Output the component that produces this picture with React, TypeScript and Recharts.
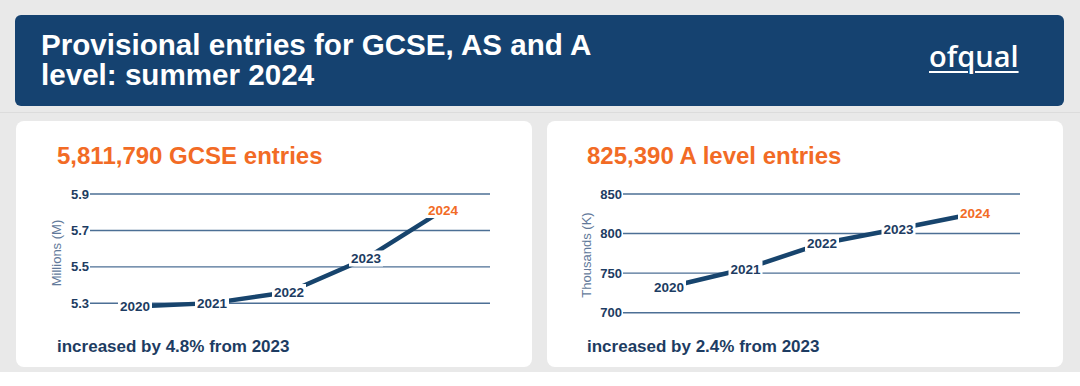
import { LineChart, Line, XAxis, YAxis, CartesianGrid, LabelList } from "recharts";

// values
const years = ["2020", "2021", "2022", "2023", "2024"];
const gcseMillions = [5.283, 5.301, 5.362, 5.546, 5.812];
const aLevelThousands = [732.5, 755.5, 787.5, 806, 825.4];
const gcseTicks = [5.3, 5.5, 5.7, 5.9];
const aLevelTicks = [700, 750, 800, 850];

const NAVY = "#154270";
const LINE = "#17446d";
const TEXT = "#1d3c62";
const ORANGE = "#f26b25";
const GRID = "#4c6f95";
const AXIS_TITLE = "#62799a";
const FONT = "'Liberation Sans', Arial, sans-serif";

const gcseData = years.map((y, i) => ({ year: y, value: gcseMillions[i] }));
const aLevelData = years.map((y, i) => ({ year: y, value: aLevelThousands[i] }));

// year label with a white box that hides the line and the grid behind it
function YearLabel(props: any) {
  const { x, y, value } = props;
  const last = value === years[years.length - 1];
  const w = 34;
  return (
    <g>
      <rect x={x - w / 2} y={y - 8} width={w} height={16} fill="#fff" />
      <text
        x={x}
        y={y}
        dy={5}
        textAnchor="middle"
        fontSize={13.5}
        fontWeight="bold"
        fontFamily={FONT}
        fill={last ? ORANGE : TEXT}
      >
        {value}
      </text>
    </g>
  );
}

type MiniProps = {
  data: { year: string; value: number }[];
  ticks: number[];
  domain: [number, number];
  axisWidth: number;
  marginRight: number;
  marginBottom: number;
  padL: number;
  padR: number;
  title: string;
  titleX: number;
  titleY: number;
  fmt: (v: number) => string;
};

function MiniChart(p: MiniProps) {
  return (
    <LineChart
      width={500}
      height={150}
      data={p.data}
      margin={{ top: 14, right: p.marginRight, bottom: p.marginBottom, left: 0 }}
    >
      <CartesianGrid vertical={false} syncWithTicks stroke={GRID} strokeWidth={1.4} />
      <XAxis dataKey="year" hide padding={{ left: p.padL, right: p.padR }} />
      <YAxis
        width={p.axisWidth}
        domain={p.domain}
        ticks={p.ticks}
        tickFormatter={p.fmt}
        axisLine={false}
        tickLine={false}
        tickSize={0}
        tickMargin={1}
        tick={{ fill: TEXT, fontSize: 13, fontWeight: "bold", fontFamily: FONT }}
        label={{
          value: p.title,
          content: ({ viewBox }: any) => {
            const cx = viewBox.x + p.titleX;
            const cy = p.titleY;
            return (
              <text
                x={cx}
                y={cy}
                transform={`rotate(-90 ${cx} ${cy})`}
                textAnchor="middle"
                dy={4}
                fontSize={13}
                fontFamily={FONT}
                fill={AXIS_TITLE}
              >
                {p.title}
              </text>
            );
          },
        }}
      />
      <Line
        type="linear"
        dataKey="value"
        stroke={LINE}
        strokeWidth={4.5}
        dot={false}
        isAnimationActive={false}
      >
        <LabelList dataKey="year" content={<YearLabel />} />
      </Line>
    </LineChart>
  );
}

const abs = (left: number, top: number, extra: any = {}) => ({
  position: "absolute" as const,
  left,
  top,
  ...extra,
});

export default function App() {
  return (
    <div style={{ position: "absolute", left: 0, top: 0, width: 1080, height: 386, background: "#fff", fontFamily: FONT, overflow: "hidden" }}>
      <div style={abs(0, 0, { width: 1080, height: 372, background: "#e9e9e9" })} />
      <div style={abs(0, 112, { width: 1080, height: 1, background: "#dcdcdc" })} />

      {/* header */}
      <div style={abs(15, 15, { width: 1049, height: 91, background: NAVY, borderRadius: 6 })} />
      <div style={abs(41, 30, { color: "#fff", fontSize: 29.6, fontWeight: "bold", lineHeight: "30px", whiteSpace: "nowrap" })}>
        Provisional entries for GCSE, AS and A<br />level: summer 2024
      </div>
      <div
        style={abs(929, 41, {
          color: "#fff",
          fontSize: 29,
          fontWeight: 600,
          fontFamily: "'Open Sans', sans-serif",
          lineHeight: "30px",
          textDecoration: "underline",
          textDecorationThickness: 2,
          textUnderlineOffset: 4,
        })}
      >
        ofqual
      </div>

      {/* cards */}
      <div style={abs(16, 121, { width: 516, height: 246, background: "#fff", borderRadius: 8 })} />
      <div style={abs(547, 121, { width: 516, height: 246, background: "#fff", borderRadius: 8 })} />

      <div style={abs(57, 144, { color: ORANGE, fontSize: 24, fontWeight: "bold", lineHeight: "24px", whiteSpace: "nowrap" })}>
        5,811,790 GCSE entries
      </div>
      <div style={abs(587, 144, { color: ORANGE, fontSize: 24, fontWeight: "bold", lineHeight: "24px", whiteSpace: "nowrap" })}>
        825,390 A level entries
      </div>

      <div style={abs(16, 180)}>
        <MiniChart
          data={gcseData}
          ticks={gcseTicks}
          domain={[5.26, 5.9]}
          axisWidth={74}
          marginRight={26}
          marginBottom={19.4}
          padL={45}
          padR={47}
          title="Millions (M)"
          titleX={41}
          titleY={73}
          fmt={(v) => v.toFixed(1)}
        />
      </div>
      <div style={abs(547, 180)}>
        <MiniChart
          data={aLevelData}
          ticks={aLevelTicks}
          domain={[700, 850]}
          axisWidth={76}
          marginRight={27}
          marginBottom={17.3}
          padL={46}
          padR={45}
          title="Thousands (K)"
          titleX={40}
          titleY={75}
          fmt={(v) => String(v)}
        />
      </div>

      <div style={abs(57, 338, { color: TEXT, fontSize: 17, fontWeight: "bold", lineHeight: "17px", whiteSpace: "nowrap" })}>
        increased by 4.8% from 2023
      </div>
      <div style={abs(587, 338, { color: TEXT, fontSize: 17, fontWeight: "bold", lineHeight: "17px", whiteSpace: "nowrap" })}>
        increased by 2.4% from 2023
      </div>
    </div>
  );
}
